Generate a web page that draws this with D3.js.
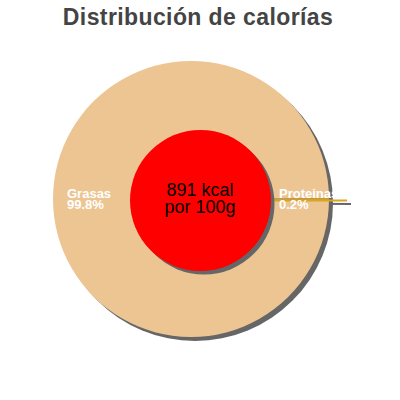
<!DOCTYPE html>
<html>
<head>
<meta charset="utf-8">
<script src="https://cdn.jsdelivr.net/npm/d3@7"></script>
<style>
  body { margin: 0; background: #fff; }
  text { font-family: "Liberation Sans", Arial, sans-serif; }
</style>
</head>
<body>
<script>
//chart values
var categories = ["Grasas", "Proteinas"];
var values = [99.8, 0.2];
var percentLabels = ["99.8%", "0.2%"];
var centerLines = ["891 kcal", "por 100g"];
var title = "Distribución de calorías";

var width = 400,
    height = 400;

var svg = d3.select("body")
    .append("svg")
    .attr("width", width)
    .attr("height", height);

//title
svg.append("text")
    .attr("x", 198)
    .attr("y", 25)
    .attr("text-anchor", "middle")
    .style("font-size", "23px")
    .style("font-weight", "bold")
    .style("letter-spacing", "0.4px")
    .style("fill", "#444")
    .text(title);

var cx = 191, cy = 199, radius = 138;
var colors = d3.scaleOrdinal().domain(categories).range(["#ecc593", "#daa520"]);

//start so the small slice sits at 3 o'clock
var half = Math.PI * values[1] / d3.sum(values);
var pie = d3.pie()
    .sort(null)
    .startAngle(Math.PI / 2 + half)
    .endAngle(Math.PI / 2 + half + 2 * Math.PI);

var arcs = pie(values);
var arc = d3.arc().innerRadius(0).outerRadius(radius);

//shadow of the pie
var shadow = svg.append("g").attr("transform", "translate(" + (cx + 4) + "," + (cy + 4) + ")");
shadow.append("circle").attr("r", radius).style("fill", "#666");
shadow.append("line")
    .attr("x1", 0).attr("y1", 0)
    .attr("x2", 156).attr("y2", 1)
    .style("stroke", "#666").style("stroke-width", 2);

var g = svg.append("g").attr("transform", "translate(" + cx + "," + cy + ")");

g.selectAll(".slice")
    .data(arcs)
    .enter()
    .append("path")
    .attr("class", "slice")
    .attr("d", arc)
    .style("fill", function(d, i){ return colors(categories[i]); });

//leader line for the thin slice
g.append("line")
    .attr("x1", 0).attr("y1", 1.5)
    .attr("x2", 156).attr("y2", 1.5)
    .style("stroke", colors(categories[1]))
    .style("stroke-width", 2);

//labels, one text per line
var labelPos = [[67, 198], [279, 198]];
categories.forEach(function(c, i){
    [c, percentLabels[i]].forEach(function(s, j){
        svg.append("text")
            .attr("x", labelPos[i][0])
            .attr("y", labelPos[i][1] + j * 11)
            .style("font-size", "13px")
            .style("font-weight", "bold")
            .style("fill", "#fff")
            .text(s);
    });
});

//center circle with shadow
svg.append("circle")
    .attr("cx", 204).attr("cy", 204).attr("r", 70.5)
    .style("fill", "#666");
svg.append("circle")
    .attr("cx", 200.5).attr("cy", 200.5).attr("r", 70.5)
    .style("fill", "#ff0000");

svg.selectAll(".center")
    .data(centerLines)
    .enter()
    .append("text")
    .attr("class", "center")
    .attr("x", 200)
    .attr("y", function(d, i){ return 196 + i * 17; })
    .attr("text-anchor", "middle")
    .style("font-size", "18px")
    .style("fill", "#000")
    .text(function(d){ return d; });
</script>
</body>
</html>
